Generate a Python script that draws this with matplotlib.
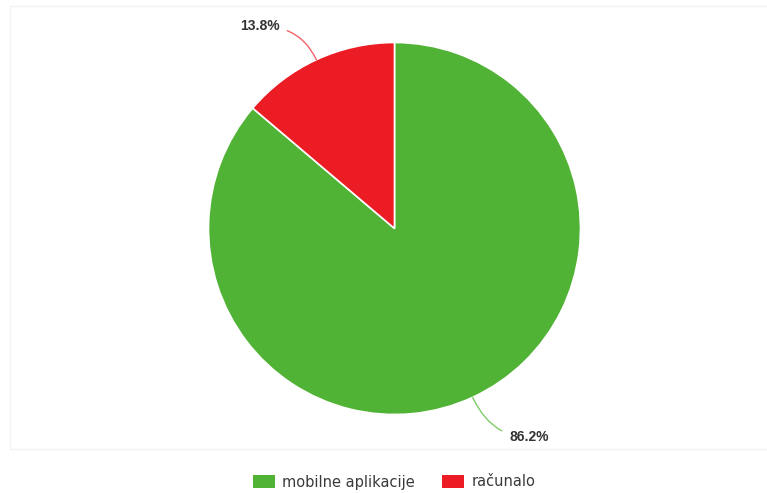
import numpy as np
import matplotlib
matplotlib.use('Agg')
import matplotlib.pyplot as plt
from matplotlib.patches import Patch, Rectangle

# Data
labels = ['mobilne aplikacije', 'računalo']
shares = [86.2, 13.8]
colors = ['#51b335', '#ec1c24']
line_colors = ['#7fcc66', '#f0646a']

W, H = 767, 493
fig = plt.figure(figsize=(W / 100, H / 100), dpi=100)
ax = fig.add_axes([0, 0, 1, 1])

# faint plot area border
ax.add_patch(Rectangle((10, H - 449), 760, 443, fill=False,
                       edgecolor='#f2f2f2', linewidth=1))

cx, cy, r = 394.5, H - 228.5, 186
wedges, _ = ax.pie(shares, colors=colors, startangle=90, counterclock=False,
                   center=(cx, cy), radius=r, frame=True,
                   wedgeprops=dict(edgecolor='white', linewidth=1.2))
ax.set_xlim(0, W)
ax.set_ylim(0, H)
ax.set_aspect('equal')
ax.axis('off')

# data labels with curved connectors
for w, val, lc in zip(wedges, shares, line_colors):
    mid = np.deg2rad((w.theta1 + w.theta2) / 2)
    ex, ey = cx + r * np.cos(mid), cy + r * np.sin(mid)
    side = 1 if np.cos(mid) > 0 else -1
    tx = ex + side * 37
    ty = ey + np.sign(np.sin(mid)) * 37 - 3
    ax.annotate(f'{val:.1f}%', xy=(ex, ey), xytext=(tx, ty),
                ha='left' if side > 0 else 'right', va='center',
                fontsize=10, fontweight='bold', color='#333333',
                family='Liberation Sans',
                arrowprops=dict(arrowstyle='-', color=lc, lw=1,
                                shrinkA=4, shrinkB=0,
                                connectionstyle=f'angle3,angleA=0,angleB={np.rad2deg(mid):.1f}'))

handles = [Patch(facecolor=c, edgecolor='none') for c in colors]
fig.legend(handles, labels, loc='center', bbox_to_anchor=(394 / W, 1 - 482 / H),
           ncol=2, frameon=False, fontsize=10.5, handlelength=1.5,
           handleheight=1.05, handletextpad=0.5, columnspacing=1.9,
           labelcolor='#3a3a3a')

plt.savefig('out.png', dpi=100)
plt.close()
